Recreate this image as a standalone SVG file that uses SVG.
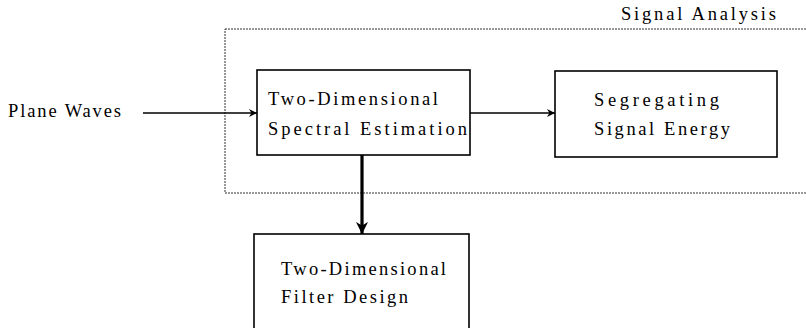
<svg xmlns="http://www.w3.org/2000/svg" width="806" height="328" viewBox="0 0 806 328">
  <style>
    .bg { fill: #ffffff; }
    .box { fill: #ffffff; stroke: #000000; stroke-width: 1.6; }
    .group { fill: none; stroke: #333333; stroke-width: 1; stroke-dasharray: 2 1; }
    .lbl { font-family: "Liberation Serif", "DejaVu Serif", serif; font-size: 18.5px; fill: #000000; }
    .wire { fill: none; stroke: #000000; stroke-width: 1.4; }
    .wire-bold { fill: none; stroke: #000000; stroke-width: 3.2; }
  </style>
  <defs>
    <marker id="arrow" viewBox="0 0 10 10" refX="10" refY="5" markerWidth="10" markerHeight="8" markerUnits="userSpaceOnUse" orient="auto">
      <path d="M0,0 L10,5 L0,10 L3,5 Z" fill="#000000"/>
    </marker>
    <marker id="arrow-bold" viewBox="0 0 10 10" refX="10" refY="5" markerWidth="12" markerHeight="12" markerUnits="userSpaceOnUse" orient="auto">
      <path d="M0,0 L10,5 L0,10 L3,5 Z" fill="#000000"/>
    </marker>
  </defs>
  <rect class="bg" x="0" y="0" width="806" height="328"/>

  <!-- signal analysis grouping frame -->
  <g id="signal-analysis">
    <rect class="group" x="225" y="29" width="600" height="164"/>
    <text class="lbl" x="621" y="20" textLength="155" lengthAdjust="spacing">Signal Analysis</text>
  </g>

  <g id="plane-waves">
    <text class="lbl" x="8" y="117" textLength="113" lengthAdjust="spacing">Plane Waves</text>
  </g>

  <g id="spectral-estimation">
    <rect class="box" x="257" y="70" width="213" height="85"/>
    <text class="lbl" x="268" y="105" textLength="170" lengthAdjust="spacing">Two-Dimensional</text>
    <text class="lbl" x="268" y="135" textLength="199" lengthAdjust="spacing">Spectral Estimation</text>
  </g>

  <g id="signal-energy">
    <rect class="box" x="555" y="71" width="222" height="86"/>
    <text class="lbl" x="594" y="106" textLength="125" lengthAdjust="spacing">Segregating</text>
    <text class="lbl" x="594" y="135" textLength="136" lengthAdjust="spacing">Signal Energy</text>
  </g>

  <g id="filter-design">
    <rect class="box" x="254" y="234" width="215" height="110"/>
    <text class="lbl" x="281" y="275" textLength="165" lengthAdjust="spacing">Two-Dimensional</text>
    <text class="lbl" x="281" y="303" textLength="127" lengthAdjust="spacing">Filter Design</text>
  </g>

  <g id="connectors">
    <line class="wire" x1="143" y1="113" x2="257" y2="113" marker-end="url(#arrow)"/>
    <line class="wire" x1="470" y1="113" x2="555" y2="113" marker-end="url(#arrow)"/>
    <line class="wire-bold" x1="362" y1="155" x2="362" y2="234" marker-end="url(#arrow-bold)"/>
  </g>
</svg>
